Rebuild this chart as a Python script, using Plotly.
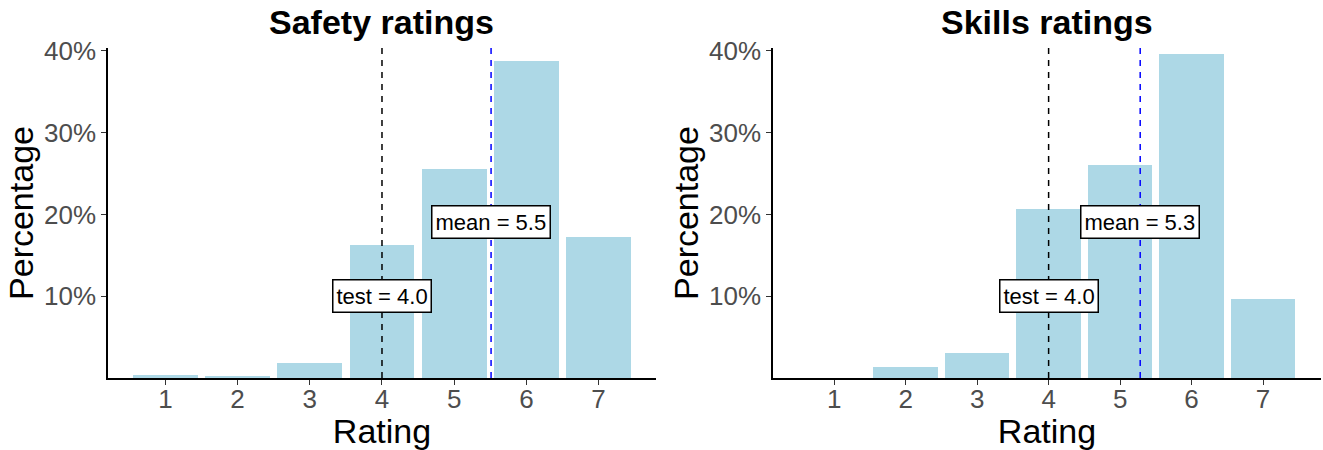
import plotly.graph_objects as go
from plotly.subplots import make_subplots

# Rating distributions (percent of respondents per rating)
ratings = [1, 2, 3, 4, 5, 6, 7]
safety_pct = [0.4, 0.2, 1.8, 16.3, 25.5, 38.7, 17.3]
skills_pct = [0.0, 1.3, 3.1, 20.7, 26.0, 39.6, 9.7]
panel_titles = ["Safety ratings", "Skills ratings"]
test_value = 4.0
y_ticks = [10, 20, 30, 40]
y_tick_text = ["10%", "20%", "30%", "40%"]

FONT = "Liberation Sans, Arial, Helvetica, sans-serif"
BAR_COLOR = "#ADD8E6"


def weighted_mean(values, weights):
    return sum(v * w for v, w in zip(values, weights)) / sum(weights)


fig = make_subplots(rows=1, cols=2, horizontal_spacing=0.0965)

panels = [
    (safety_pct, 1, "x", "y", [0.205, 7.795]),
    (skills_pct, 2, "x2", "y2", [0.145, 7.81]),
]

for pct, col, xr, yr, xrange in panels:
    fig.add_trace(
        go.Bar(x=ratings, y=pct, width=0.9, marker_color=BAR_COLOR,
               marker_line_width=0, showlegend=False),
        row=1, col=col,
    )
    mean_val = weighted_mean(ratings, pct)

    # reference lines: test value (black) and sample mean (blue)
    fig.add_shape(type="line", xref=xr, yref=f"{yr} domain",
                  x0=test_value, x1=test_value, y0=0, y1=1,
                  line=dict(color="black", width=1.5, dash="6px,6px"))
    fig.add_shape(type="line", xref=xr, yref=f"{yr} domain",
                  x0=mean_val, x1=mean_val, y0=0, y1=1,
                  line=dict(color="blue", width=1.5, dash="6px,6px"))

    box = dict(showarrow=False, bgcolor="white", bordercolor="black",
               borderwidth=1.5, borderpad=3,
               font=dict(family=FONT, size=22, color="black"))
    fig.add_annotation(x=test_value, y=10, xref=xr, yref=yr,
                       text=f"test = {test_value:.1f}", **box)
    fig.add_annotation(x=mean_val, y=19.1, xref=xr, yref=yr,
                       text=f"mean = {mean_val:.1f}", **box)

    fig.update_xaxes(row=1, col=col, range=xrange, tickvals=ratings,
                     ticktext=[str(r) for r in ratings],
                     showline=True, linecolor="black", linewidth=1.5,
                     ticks="outside", ticklen=5, tickcolor="#333333",
                     tickwidth=1.2, showgrid=False, zeroline=False,
                     ticklabelstandoff=-8,
                     tickfont=dict(family=FONT, size=26, color="#4D4D4D"),
                     title=dict(text="Rating", standoff=6,
                                font=dict(family=FONT, size=34, color="black")))
    fig.update_yaxes(row=1, col=col, range=[0, 40.35], tickvals=y_ticks,
                     ticktext=y_tick_text,
                     showline=True, linecolor="black", linewidth=1.5,
                     ticks="outside", ticklen=5, tickcolor="#333333",
                     tickwidth=1.2, showgrid=False, zeroline=False,
                     tickfont=dict(family=FONT, size=26, color="#4D4D4D"),
                     title=dict(text="Percentage", standoff=0,
                                font=dict(family=FONT, size=34, color="black")))

# panel titles
for i, title in enumerate(panel_titles):
    dom = fig.layout.xaxis.domain if i == 0 else fig.layout.xaxis2.domain
    fig.add_annotation(x=(dom[0] + dom[1]) / 2, y=1.0, xref="paper", yref="paper",
                       xanchor="center", yanchor="bottom", yshift=5,
                       showarrow=False, text=f"<b>{title}</b>",
                       font=dict(family=FONT, size=34, color="black"))

fig.update_layout(
    width=1323, height=450,
    margin=dict(l=108, r=2, t=48, b=72),
    plot_bgcolor="white", paper_bgcolor="white",
    bargap=0,
)

fig.write_html("out.html")
